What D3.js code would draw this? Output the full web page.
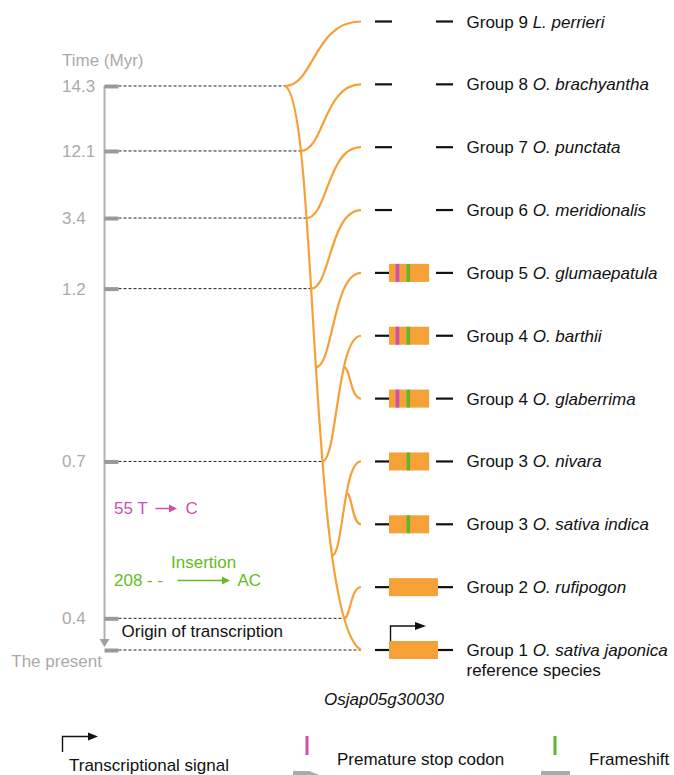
<!DOCTYPE html>
<html><head><meta charset="utf-8">
<script src="https://cdn.jsdelivr.net/npm/d3@7"></script>
<style>
body{margin:0;background:#fff}
svg{display:block;font-family:"Liberation Sans",Arial,Helvetica,sans-serif}
</style></head><body>
<svg id="chart" width="674" height="775"></svg>
<script>
// ---- data ----
const species = ["L. perrieri","O. brachyantha","O. punctata","O. meridionalis","O. glumaepatula",
  "O. barthii","O. glaberrima","O. nivara","O. sativa indica","O. rufipogon","O. sativa japonica"];
const groups = [9,8,7,6,5,4,4,3,3,2,1];
// gene model extent (fraction of the full reference ORF), 0 = no ORF
const geneExtent = [0,0,0,0,0.82,0.82,0.82,0.82,0.82,1,1];
const stopCodon  = [false,false,false,false,true,true,true,false,false,false,false];
const frameshift = [false,false,false,false,true,true,true,true,true,false,false];
// relative positions of the mutations along the gene model
const stopPos = 0.173, shiftPos = 0.395;
const timeTicks  = [14.3,12.1,3.4,1.2,0.7,0.4,0];
const tickLabels = ["14.3","12.1","3.4","1.2","0.7","0.4",""];
// where each lineage splits off: parent lineage ("trunk" or leaf index), by time or by row
const splitParent = ["trunk","trunk","trunk","trunk","trunk","trunk",5,"trunk",7,"trunk",null];
const splitTime   = [14.3,12.1,3.4,1.2,null,0.7,null,null,null,0.4,0];
const splitRow    = [null,null,null,null,5.5,null,5.5,8.5,7.5,null,null];

// ---- layout ----
const ORANGE = "#f6a038", MAGENTA = "#cc4fb4", GREEN = "#5cb82a", GREY = "#aaaaaa";
const timeRows = [1.026,2.06,3.127,4.25,7.0,9.496,10];
const rowY  = d3.scaleLinear().domain([0,10]).range([21.5,650]);
const timeY = d3.scaleLinear().domain(timeTicks).range(timeRows.map(rowY));
const tipX = 361, axisX = 104.5, k = 0.38;
const geneX = d3.scaleLinear().domain([0,1]).range([389,438]);

const svg = d3.select("#chart");

function bez(P,t){const u=1-t,a=u*u*u,b=3*u*u*t,c=3*u*t*t,d=t*t*t;
  return [a*P[0][0]+b*P[1][0]+c*P[2][0]+d*P[3][0], a*P[0][1]+b*P[1][1]+c*P[2][1]+d*P[3][1]];}
function xAtY(P,y){let lo=0,hi=1;const down=P[3][1]>P[0][1];
  for(let i=0;i<50;i++){const m=(lo+hi)/2;if((bez(P,m)[1]<y)===down)lo=m;else hi=m;}
  return bez(P,(lo+hi)/2)[0];}
function pathOf(P){const p=d3.path();p.moveTo(P[0][0],P[0][1]);
  p.bezierCurveTo(P[1][0],P[1][1],P[2][0],P[2][1],P[3][0],P[3][1]);return p.toString();}

// main lineage from the oldest split down to the reference species
const trunk = [[285,timeY(14.3)],[318,100],[308,620],[tipX,rowY(10)]];
const curves = [];
species.forEach((s,i)=>{
  if(splitParent[i]===null){curves[i]=trunk;return;}
  const y0 = splitTime[i]!=null ? timeY(splitTime[i]) : rowY(splitRow[i]);
  const parent = splitParent[i]==="trunk" ? trunk : curves[splitParent[i]];
  const x0 = xAtY(parent,y0), y1 = rowY(i), xc = x0 + k*(tipX-x0);
  curves[i] = [[x0,y0],[xc,y0],[xc,y1],[tipX,y1]];
});

// dashed guides from the time axis to the split points
svg.append("g").selectAll("line").data(timeTicks).join("line")
  .attr("x1",axisX+14).attr("x2",d=>xAtY(trunk,timeY(d)))
  .attr("y1",d=>timeY(d)).attr("y2",d=>timeY(d))
  .attr("stroke","#222").attr("stroke-width",1).attr("stroke-dasharray","3,2");

// time axis
svg.append("line").attr("x1",axisX).attr("x2",axisX).attr("y1",timeY(14.3)).attr("y2",timeY(0)-10)
  .attr("stroke","#b0b0b0").attr("stroke-width",2);
svg.append("path").attr("d",`M${axisX-5},${timeY(0)-11}L${axisX+5},${timeY(0)-11}L${axisX},${timeY(0)-3}Z`)
  .attr("fill","#a0a0a0");
const ax = svg.append("g").attr("transform",`translate(${axisX},0)`)
  .call(d3.axisLeft(timeY).tickValues(timeTicks).tickFormat((d,i)=>tickLabels[i])
    .tickSizeInner(-14).tickSizeOuter(0).tickPadding(8));
ax.select(".domain").remove();
ax.selectAll(".tick line").attr("stroke","#999").attr("stroke-width",4);
ax.selectAll(".tick text").attr("x",-42.5).attr("text-anchor","start").attr("fill",GREY)
  .attr("font-size",17).attr("font-family","Liberation Sans, Arial, sans-serif");
svg.append("text").attr("x",62).attr("y",66).attr("font-size",17).attr("fill",GREY).text("Time (Myr)");
svg.append("text").attr("x",102).attr("y",667).attr("text-anchor","end").attr("font-size",17)
  .attr("fill",GREY).text("The present");

// tree
svg.append("g").selectAll("path").data(curves).join("path")
  .attr("d",pathOf).attr("fill","none").attr("stroke",ORANGE).attr("stroke-width",2.2);

// gene models (one group per species, bound to its index)
const leaf = svg.append("g").selectAll("g").data(species.map((s,i)=>i)).join("g")
  .attr("transform",i=>`translate(0,${rowY(i)})`);
leaf.append("line").attr("x1",375).attr("x2",392).attr("stroke","#111").attr("stroke-width",2.2);
leaf.append("line").attr("x1",436).attr("x2",453).attr("stroke","#111").attr("stroke-width",2.2);
leaf.filter(i=>geneExtent[i]>0).append("rect")
  .attr("x",geneX(0)).attr("y",-9).attr("height",18)
  .attr("width",i=>geneX(geneExtent[i])-geneX(0)).attr("fill",ORANGE);
leaf.filter(i=>stopCodon[i]).append("rect")
  .attr("x",geneX(stopPos)-1.8).attr("width",3.6).attr("y",-9).attr("height",18).attr("fill",MAGENTA);
leaf.filter(i=>frameshift[i]).append("rect")
  .attr("x",geneX(shiftPos)-1.7).attr("width",3.4).attr("y",-9).attr("height",18).attr("fill",GREEN);
const lab = leaf.append("text").attr("x",466.5).attr("y",6).attr("font-size",17).attr("fill","#111");
lab.append("tspan").text(i=>`Group ${groups[i]} `);
lab.append("tspan").attr("font-style","italic").text(i=>species[i]);
svg.append("text").attr("x",466.5).attr("y",676).attr("font-size",17).attr("fill","#111").text("reference species");

// transcription start on the reference gene
const tss = d3.path();
tss.moveTo(geneX(0)+1.5,rowY(10)-9); tss.lineTo(geneX(0)+1.5,rowY(10)-24); tss.lineTo(geneX(0)+28,rowY(10)-24);
svg.append("path").attr("d",tss.toString()).attr("fill","none").attr("stroke","#111").attr("stroke-width",1.4);
svg.append("path").attr("d",`M${geneX(0)+26},${rowY(10)-28}L${geneX(0)+37},${rowY(10)-24}L${geneX(0)+26},${rowY(10)-20}Z`).attr("fill","#111");

svg.append("text").attr("x",121.5).attr("y",637).attr("font-size",17).attr("fill","#111").text("Origin of transcription");
svg.append("text").attr("x",384).attr("y",705).attr("text-anchor","middle").attr("font-size",17)
  .attr("font-style","italic").attr("fill","#111").text("Osjap05g30030");

// mutation annotations
function arrow(x1,x2,y,color){
  svg.append("line").attr("x1",x1).attr("x2",x2-6).attr("y1",y).attr("y2",y).attr("stroke",color).attr("stroke-width",1.5);
  svg.append("path").attr("d",`M${x2-8},${y-4}L${x2},${y}L${x2-8},${y+4}Z`).attr("fill",color);
}
svg.append("text").attr("x",114).attr("y",514).attr("font-size",17).attr("fill",MAGENTA).text("55 T");
arrow(155.5,177,508.5,MAGENTA);
svg.append("text").attr("x",185.5).attr("y",514).attr("font-size",17).attr("fill",MAGENTA).text("C");
svg.append("text").attr("x",114).attr("y",586).attr("font-size",17).attr("fill","#66bb22").text("208 - -");
svg.append("text").attr("x",171).attr("y",568).attr("font-size",17).attr("fill","#66bb22").text("Insertion");
arrow(177.5,230,580.5,"#66bb22");
svg.append("text").attr("x",237.5).attr("y",586).attr("font-size",17).attr("fill","#66bb22").text("AC");

// legend
const lg = svg.append("g");
lg.append("path").attr("d","M62.5,752V736.5H90").attr("fill","none").attr("stroke","#111").attr("stroke-width",1.4);
lg.append("path").attr("d","M88,732.5L98,736.5L88,740.5Z").attr("fill","#111");
lg.append("text").attr("x",69).attr("y",771).attr("font-size",17).attr("fill","#111").text("Transcriptional signal");
lg.append("rect").attr("x",305.5).attr("y",736).attr("width",3).attr("height",19).attr("fill",MAGENTA);
lg.append("text").attr("x",337).attr("y",765).attr("font-size",17).attr("fill","#111").text("Premature stop codon");
lg.append("path").attr("d","M293,771H309L322,776V785H293Z").attr("fill","#aaa");
lg.append("rect").attr("x",553.5).attr("y",736).attr("width",3).attr("height",19).attr("fill",GREEN);
lg.append("text").attr("x",589).attr("y",765).attr("font-size",17).attr("fill","#111").text("Frameshift");
lg.append("rect").attr("x",541).attr("y",771).attr("width",29).attr("height",12).attr("fill","#aaa");
</script>
</body></html>
